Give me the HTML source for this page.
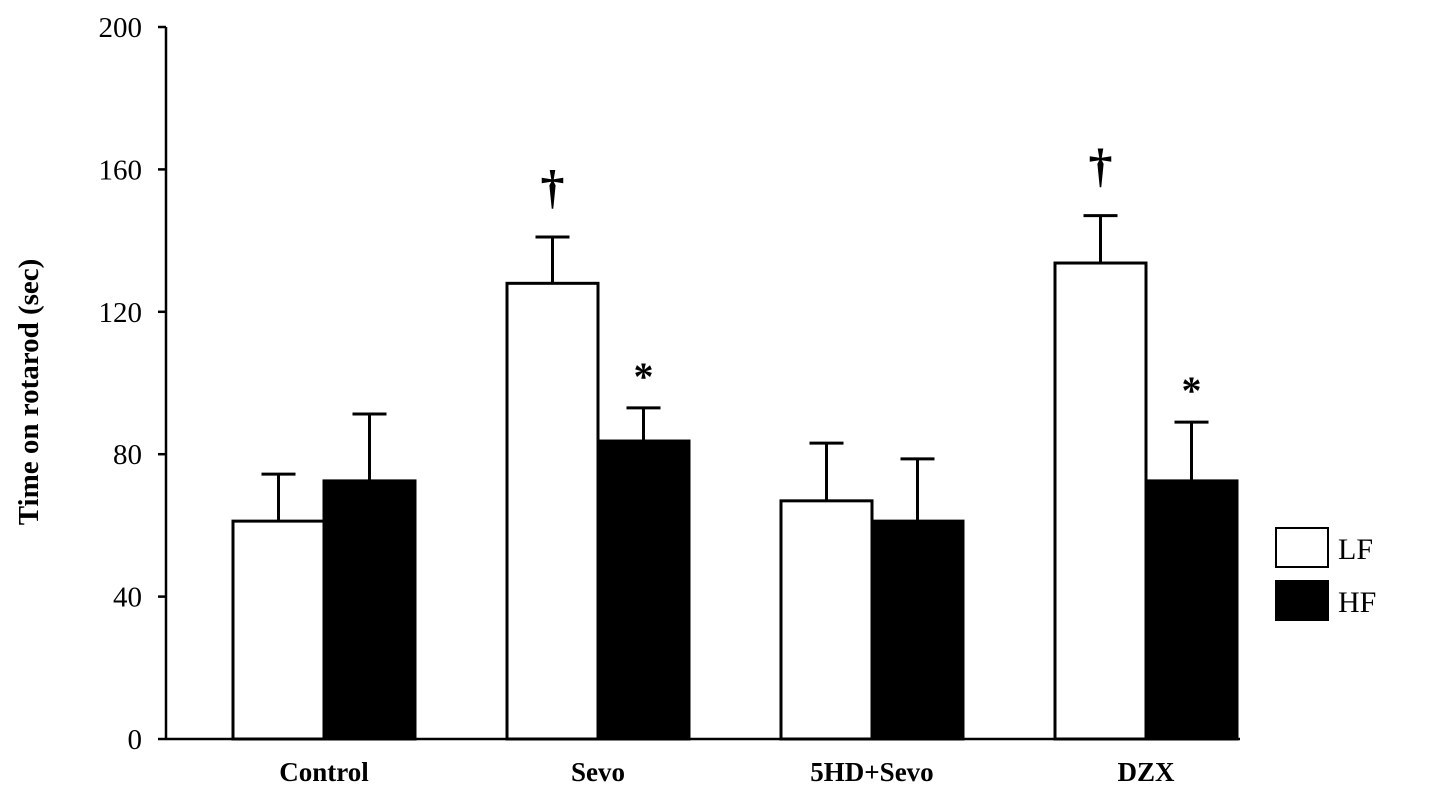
<!DOCTYPE html>
<html><head><meta charset="utf-8"><style>
body{margin:0;background:#fff;}
svg text{font-family:"Liberation Serif",serif;}
</style></head><body>
<svg width="1441" height="796" viewBox="0 0 1441 796">
<g id="axes"></g><g id="bars"></g>
</svg>
<script>
const categories=["Control","Sevo","5HD+Sevo","DZX"];
const lfValues=[61.2,128,66.9,133.7];
const lfErrors=[13.2,13,16.2,13.3];
const hfValues=[72.5,83.7,61.2,72.5];
const hfErrors=[18.8,9.3,17.5,16.5];
const yTicks=[0,40,80,120,160,200];
const lfMarks=["","†","","†"];
const hfMarks=["","*","","*"];

const NS="http://www.w3.org/2000/svg";
const axes=document.getElementById('axes'), bars=document.getElementById('bars');
const y0=739,y1=27,xAxis=166;
const y=v=>y0-(v/200)*(y0-y1);
const groupStart=i=>233+i*274;
const barW=91;
function mk(tag,attrs,parent,text){const e=document.createElementNS(NS,tag);for(const k in attrs)e.setAttribute(k,attrs[k]);if(text!==undefined)e.textContent=text;parent.appendChild(e);return e;}

let e=mk('line',{x1:xAxis,y1:y1,x2:xAxis,y2:y0+1,stroke:'#000','stroke-width':2.5},axes);


e=mk('line',{x1:xAxis,y1:y0,x2:1240,y2:y0,stroke:'#000','stroke-width':2.5},axes);


yTicks.forEach(t=>{
  let l=mk('line',{x1:xAxis-8,y1:y(t),x2:xAxis,y2:y(t),stroke:'#000','stroke-width':2.5},axes);
  
  
  let tx=mk('text',{x:xAxis-24,y:y(t)+10,'text-anchor':'end','font-size':29},axes,String(t));
  
  
});
e=mk('text',{x:0,y:0,transform:'translate(38,392) rotate(-90)','text-anchor':'middle','font-size':29,'font-weight':'bold'},axes,'Time on rotarod (sec)');



function bar(x,v,err,fill,mark,name){
  const top=y(v), et=y(v+err), cx=x+barW/2;
  let l=mk('line',{x1:cx,y1:top,x2:cx,y2:et,stroke:'#000','stroke-width':3},bars);
  
  
  let c=mk('line',{x1:cx-17,y1:et,x2:cx+17,y2:et,stroke:'#000','stroke-width':3},bars);
  
  
  let r=mk('rect',{x:x,y:top,width:barW,height:y0-top,fill:fill,stroke:'#000','stroke-width':3},bars);
  
  
  if(mark){
    const isStar=mark==='*';
    let t=mk('text',{x:cx,y:isStar?et-18:et-34,'text-anchor':'middle','font-size':isStar?40:48,'font-weight':'bold'},bars,mark);
    
    
  }
}
categories.forEach((c,i)=>{
  const x=groupStart(i);
  bar(x,lfValues[i],lfErrors[i],'#fff',lfMarks[i],'bar-lf-'+i);
  bar(x+barW,hfValues[i],hfErrors[i],'#000',hfMarks[i],'bar-hf-'+i);
  let t=mk('text',{x:x+barW,y:781,'text-anchor':'middle','font-size':27,'font-weight':'bold'},axes,c);
  
  
});
e=mk('rect',{x:1276,y:528,width:52,height:39,fill:'#fff',stroke:'#000','stroke-width':2},axes);


e=mk('text',{x:1338,y:559,'font-size':30},axes,'LF');


e=mk('rect',{x:1276,y:581,width:52,height:39,fill:'#000',stroke:'#000','stroke-width':2},axes);


e=mk('text',{x:1338,y:612,'font-size':30},axes,'HF');


</script>
</body></html>
